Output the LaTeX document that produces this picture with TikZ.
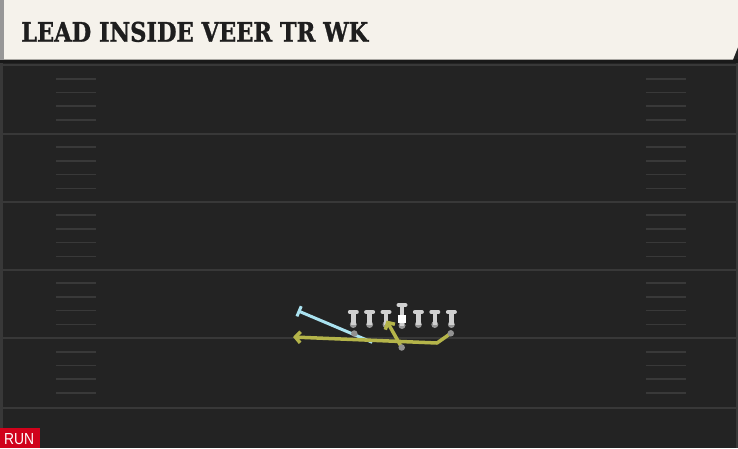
\documentclass[tikz,border=0pt]{standalone}
\usepackage{fontspec}
\setmainfont{DejaVu Serif}
\newfontfamily\titlefont[BoldFeatures={FakeBold=1.2}]{DejaVu Serif}
\newfontfamily\runfont{Liberation Sans}
\usetikzlibrary{arrows.meta}
\definecolor{fieldbg}{HTML}{232323}
\definecolor{yardc}{HTML}{383838}
\definecolor{hashc}{HTML}{393939}
\definecolor{headbg}{HTML}{F5F2EB}
\definecolor{titlec}{HTML}{1E1E1E}
\definecolor{runred}{HTML}{D0021B}
\definecolor{routey}{HTML}{B4B44A}
\definecolor{routeb}{HTML}{AAE2F0}
\definecolor{pinlight}{HTML}{D0D0D0}
\definecolor{pindark}{HTML}{979797}
\definecolor{dotc}{HTML}{929292}
\tikzset{
  yard/.style={draw=yardc, line width=2pt},
  hashmark/.style={draw=hashc, line width=1.6pt},
  manpin/.style={circle, fill=pindark, inner sep=0pt, minimum size=7pt},
  tstem/.style={draw=pinlight, line width=4.5pt},
  tbar/.style={draw=pinlight, line width=4pt, line cap=round},
  playerdot/.style={circle, fill=dotc, inner sep=0pt, minimum size=6.5pt},
  yroute/.style={draw=routey, line width=3.5pt, line join=round},
  broute/.style={draw=routeb, line width=3pt},
}
\begin{document}
\begin{tikzpicture}[x=1pt,y=-1pt]
\useasboundingbox (0,0) rectangle (738,448);
% field
\fill[fieldbg] (0,0) rectangle (738,448);
\foreach \y in {65,133.5,201.5,269.5,338,408}
  \draw[yard] (0,\y) -- (738,\y);
\foreach \y in {65,133.5,201.5,269.5,338}{
  \foreach \k in {1,2,3,4}{
    \draw[hashmark] (56,{\y+\k*13.7}) -- (96,{\y+\k*13.7});
    \draw[hashmark] (646,{\y+\k*13.7}) -- (686,{\y+\k*13.7});
  }
}
\fill[yardc] (0,62) rectangle (3,448);
\fill[yardc] (735.5,62) rectangle (738,448);
% header
\fill[black!90] (0,59) rectangle (738,62.5);
\fill[headbg] (0,0) -- (738,0) -- (738,47) -- (733,59.5) -- (0,59.5) -- cycle;
\fill[pindark] (0,0) rectangle (4,59.5);
\node[anchor=base west, inner sep=0pt, text=titlec] (title) at (21,41.7)
  {\resizebox{347pt}{20pt}{\titlefont\bfseries LEAD INSIDE VEER TR WK}};
% run badge
\fill[runred] (0,427.7) rectangle (40,448);
\node[anchor=base west, inner sep=0pt, text=white] (run) at (4,444.3)
  {\resizebox{30pt}{11pt}{\runfont RUN}};
% linemen
\foreach \i/\x in {1/353.3,2/369.6,3/386,5/418.4,6/434.8,7/451.4}{
  \node[manpin] (L\i) at (\x,324.5) {};
  \draw[tstem] (L\i.center) -- ++(0,-12.5) coordinate (T\i);
  \draw[tbar] ([xshift=-3.5pt]T\i) -- ([xshift=3.5pt]T\i);
}
\node[manpin] (L4) at (402,325.5) {};
\draw[tstem] (L4.center) -- ++(0,-20.5) coordinate (T4);
\draw[tbar] ([xshift=-3.5pt]T4) -- ([xshift=3.5pt]T4);
\fill[white] (398.3,314.7) rectangle (405.7,323);
% route points
\coordinate (D1c) at (354.3,333.5);
\coordinate (QBc) at (401.7,347.5);
\coordinate (D3c) at (450.8,333.3);
\coordinate (bstart) at (372.3,342.3);
\coordinate (bend) at (297.7,310.7);
\coordinate (corner) at (437,343);
\coordinate (yend) at (293,337);
\coordinate (qbend) at (386.5,320.5);
% routes
\draw[broute, -{Bar[width=11pt]}] (bstart) -- (bend);
\draw[yroute, -{Straight Barb[length=5pt,width=11pt]}] (D3c) -- (corner) -- (yend);
\draw[yroute, -{Straight Barb[length=5pt,width=11pt]}] (QBc) -- (qbend);
% players
\node[playerdot] (D1) at (D1c) {};
\node[playerdot] (QB) at (QBc) {};
\node[playerdot] (D3) at (D3c) {};
\end{tikzpicture}
\end{document}
